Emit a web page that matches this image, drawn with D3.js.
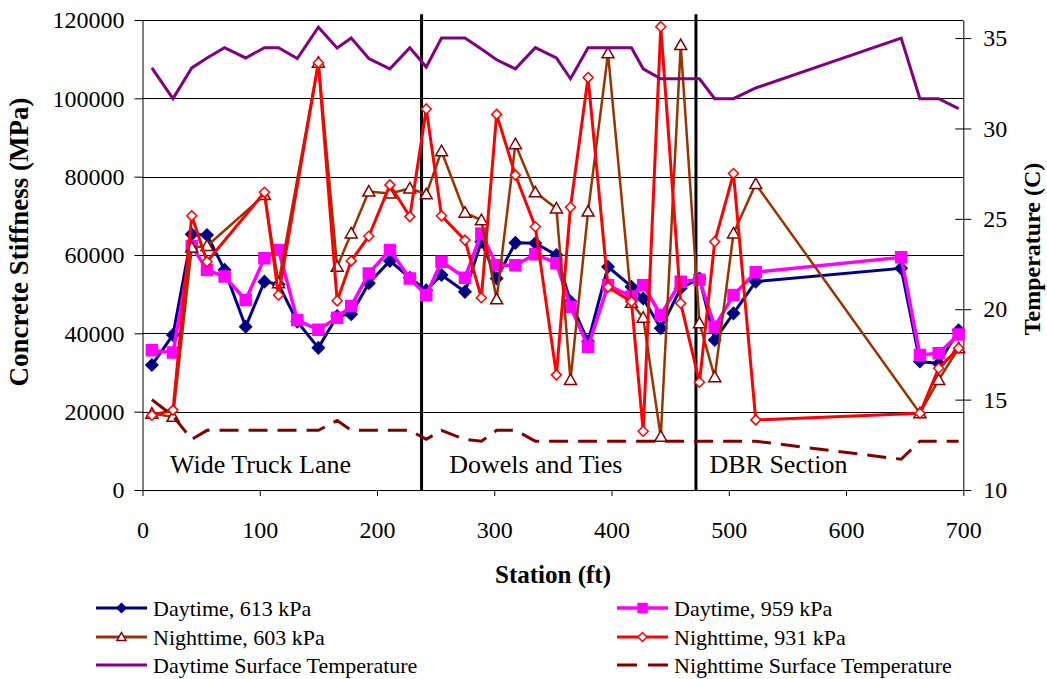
<!DOCTYPE html>
<html>
<head>
<meta charset="utf-8">
<script src="https://cdn.jsdelivr.net/npm/d3@7"></script>
<style>
    body { margin: 0; background: #ffffff; }
</style>
</head>
<body>
<div id="chart"></div>
<script>
// station (ft) of every test point
var stations = [8, 26, 42, 55, 70, 88, 104, 116, 132, 150, 166, 178, 193, 211, 228,
    242, 255, 275, 289, 302, 318, 335, 353, 365, 380, 397, 417, 427, 442, 459,
    475, 488, 504, 523, 647, 663, 679, 696];

// concrete stiffness (MPa), null where the series has no reading
var day613 = [31900, 39600, 65300, 65100, 56200, 41700, 53200, 52500, 43000, 36300,
    44400, 44900, 52800, 58500, 54200, 51000, 54900, 50600, 63400, 54000,
    63100, 63000, 60000, 48100, 37900, 57000, 51900, 48900, 41300, 51500,
    54000, 38300, 45100, 53200, 56600, 32800, 32300, 40800];
var day959 = [35700, 35100, 62300, 56200, 54500, 48500, 59200, 61300, 43400, 40900,
    44000, 47000, 55300, 61300, 54000, 49800, 58300, 54200, 65500, 57400,
    57400, 60200, 57900, 46800, 36600, 52300, 49400, 52300, 44700, 53200,
    53700, 41700, 49800, 55600, 59400, 34500, 34900, 39700];
var night603 = [19500, 18700, 61900, 62300, null, null, 75300, 52800, null, 109100,
    57000, 65500, 76200, 75700, 77000, 75500, 86500, 70800, 68900, 48700,
    88300, 76000, 71900, 28100, 71100, 111500, 47800, 44000, 13600, 113600,
    42600, 28800, 65500, 78100, null, 19600, 28100, 36200];
var night931 = [19100, 20400, 70000, 58300, null, null, 76000, 49800, null, 109100,
    48300, 58500, 64800, 77900, 69800, 97300, 70000, 63800, 49100, 95900,
    80400, 67200, 29400, 72200, 105300, 51800, 48100, 15000, 118300, 47700,
    27500, 63400, 80800, 17900, null, 19600, 31100, 36200];

// surface temperature (C), right axis
var dayTemp = [33.35, 31.65, 33.35, 33.9, 34.47, 33.9, 34.47, 34.47, 33.87, 35.6,
    34.45, 35.0, 33.87, 33.3, 34.47, 33.4, 35.0, 35.0, 34.4, 33.8,
    33.3, 34.47, 33.9, 32.75, 34.47, 34.47, 34.47, 33.3, 32.75, 32.75,
    32.75, 31.65, 31.65, 32.24, 35.0, 31.65, 31.65, 31.1];
var nightTemp = [15.0, 14.1, 12.8, 13.3, 13.3, 13.3, 13.3, 13.3, 13.3, 13.3,
    13.85, 13.3, 13.3, 13.3, 13.3, 12.8, 13.3, 12.8, 12.7, 13.3,
    13.3, 12.7, 12.7, 12.7, 12.7, 12.7, 12.7, 12.7, 12.7, 12.7,
    12.7, 12.7, 12.7, 12.7, 11.7, 12.7, 12.7, 12.7];

// section boundaries and labels
var sectionLines = [238, 472];
var sectionLineTop = 121500;
var sectionNames = ['Wide Truck Lane', 'Dowels and Ties', 'DBR Section'];
var sectionNameStations = [23.5, 261.5, 483.5];

// axis ticks
var stationTicks = [0, 100, 200, 300, 400, 500, 600, 700];
var stiffnessTicks = [0, 20000, 40000, 60000, 80000, 100000, 120000];
var tempTicks = [10, 15, 20, 25, 30, 35];

var graphicWidth = 1047;
var graphicHeight = 679;
var plotLeft = 142.5, plotRight = 963.3, plotTop = 20, plotBottom = 490;
var mainFont = "'Liberation Serif', 'Times New Roman', serif";

window.onload = function() {
    render();
};

function render() {
    var svg = d3.select('#chart').append('svg')
        .attr('width', graphicWidth)
        .attr('height', graphicHeight)
        .style('font-family', mainFont);

    var x = d3.scaleLinear().domain([0, 700]).range([plotLeft, plotRight]);
    var yL = d3.scaleLinear().domain([0, 120000]).range([plotBottom, plotTop]);
    var yR = d3.scaleLinear().domain([10, 36]).range([plotBottom, plotTop]);

    // horizontal gridlines
    svg.append('g').selectAll('line')
        .data(stiffnessTicks.slice(1))
        .enter().append('line')
        .attr('x1', plotLeft).attr('x2', plotRight)
        .attr('y1', function(d) { return Math.round(yL(d)) + 0.5; })
        .attr('y2', function(d) { return Math.round(yL(d)) + 0.5; })
        .attr('stroke', '#000')
        .attr('stroke-width', 1);

    // axes
    var left = svg.append('g')
        .attr('transform', 'translate(' + plotLeft + ',0)')
        .call(d3.axisLeft(yL).tickValues(stiffnessTicks).tickFormat(d3.format('d'))
            .tickSize(8).tickSizeOuter(0).tickPadding(10));
    var right = svg.append('g')
        .attr('transform', 'translate(' + plotRight + ',0)')
        .call(d3.axisRight(yR).tickValues(tempTicks)
            .tickSize(8).tickSizeOuter(0).tickPadding(12));
    right.selectAll('.tick line').attr('x1', -8);
    var bottom = svg.append('g')
        .attr('transform', 'translate(0,' + plotBottom + ')')
        .call(d3.axisBottom(x).tickValues(stationTicks)
            .tickSize(6).tickSizeOuter(0).tickPadding(25));

    [left, right, bottom].forEach(function(ax) {
        ax.selectAll('text')
            .style('font-family', mainFont)
            .style('font-size', '24px')
            .attr('fill', '#000');
        ax.selectAll('path, line').attr('stroke', '#000');
    });

    // section boundary lines
    svg.append('g').selectAll('line')
        .data(sectionLines)
        .enter().append('line')
        .attr('x1', function(d) { return x(d); })
        .attr('x2', function(d) { return x(d); })
        .attr('y1', yL(0))
        .attr('y2', yL(sectionLineTop))
        .attr('stroke', '#000')
        .attr('stroke-width', 3);

    // section names
    svg.append('g').selectAll('text')
        .data(sectionNames)
        .enter().append('text')
        .attr('x', function(d, i) { return x(sectionNameStations[i]); })
        .attr('y', 473)
        .style('font-size', '26px')
        .text(function(d) { return d; });

    // stiffness series
    drawSeries(svg, x, yL, day613, '#000080', 3, null, 'diamond', '#000080', '#000080', 6);
    drawSeries(svg, x, yL, day959, '#FF00FF', 3.5, null, 'square', '#FF00FF', '#FF00FF', 5.5);
    drawSeries(svg, x, yL, night603, '#993300', 2.5, null, 'triangle', '#800000', '#ffffff', 6);
    drawSeries(svg, x, yL, night931, '#FF0000', 3, null, 'diamond', '#FF0000', '#ffffff', 5);

    // temperature series
    drawSeries(svg, x, yR, dayTemp, '#800080', 3, null, null);
    drawSeries(svg, x, yR, nightTemp, '#800000', 3, '19,10', null);

    // axis titles
    svg.append('text')
        .attr('transform', 'translate(28,' + ((plotTop + plotBottom) / 2 - 13) + ') rotate(-90)')
        .style('text-anchor', 'middle')
        .style('font-size', '27px')
        .style('font-weight', 'bold')
        .text('Concrete Stiffness (MPa)');
    svg.append('text')
        .attr('transform', 'translate(1040,' + ((plotTop + plotBottom) / 2 - 6) + ') rotate(-90)')
        .style('text-anchor', 'middle')
        .style('font-size', '24px')
        .style('font-weight', 'bold')
        .text('Temperature (C)');
    svg.append('text')
        .attr('x', 553)
        .attr('y', 583)
        .style('text-anchor', 'middle')
        .style('font-size', '25px')
        .style('font-weight', 'bold')
        .text('Station (ft)');

    makeLegend(svg);
}

function markerPath(type, s) {
    if (type === 'diamond') {
        return 'M0,' + (-s) + 'L' + s + ',0L0,' + s + 'L' + (-s) + ',0Z';
    }
    if (type === 'square') {
        return 'M' + (-s) + ',' + (-s) + 'H' + s + 'V' + s + 'H' + (-s) + 'Z';
    }
    // triangle
    return 'M0,' + (-s) + 'L' + s + ',' + (s * 0.75) + 'L' + (-s) + ',' + (s * 0.75) + 'Z';
}

/*
 * draws one series as a polyline with optional markers
 * values line up with stations; null values are skipped and the line joins across them
 */
function drawSeries(svg, x, y, values, color, width, dash, marker, mStroke, mFill, mSize) {
    var pts = [];
    for (var i = 0; i < stations.length; i++) {
        if (values[i] != null) pts.push([stations[i], values[i]]);
    }

    var line = d3.line()
        .x(function(d) { return x(d[0]); })
        .y(function(d) { return y(d[1]); });

    var g = svg.append('g');
    g.append('path')
        .attr('d', line(pts))
        .attr('fill', 'none')
        .attr('stroke', color)
        .attr('stroke-width', width)
        .attr('stroke-linejoin', 'miter')
        .attr('stroke-dasharray', dash);

    if (marker) {
        g.selectAll('path.m')
            .data(pts)
            .enter().append('path')
            .attr('class', 'm')
            .attr('d', markerPath(marker, mSize))
            .attr('transform', function(d) { return 'translate(' + x(d[0]) + ',' + y(d[1]) + ')'; })
            .attr('fill', mFill)
            .attr('stroke', mStroke)
            .attr('stroke-width', 1.5);
    }
}

function makeLegend(svg) {
    var entries = [
        { name: 'Daytime, 613 kPa', color: '#000080', width: 3, marker: 'diamond', mStroke: '#000080', mFill: '#000080', col: 0, row: 0 },
        { name: 'Daytime, 959 kPa', color: '#FF00FF', width: 3.5, marker: 'square', mStroke: '#FF00FF', mFill: '#FF00FF', col: 1, row: 0 },
        { name: 'Nighttime, 603 kPa', color: '#993300', width: 3, marker: 'triangle', mStroke: '#800000', mFill: '#ffffff', col: 0, row: 1 },
        { name: 'Nighttime, 931 kPa', color: '#FF0000', width: 3, marker: 'diamond', mStroke: '#FF0000', mFill: '#ffffff', col: 1, row: 1 },
        { name: 'Daytime Surface Temperature', color: '#800080', width: 3, marker: null, col: 0, row: 2 },
        { name: 'Nighttime Surface Temperature', color: '#800000', width: 3, marker: null, dash: '20,11', col: 1, row: 2 }
    ];
    var colX = [96, 617];
    var rowY = [608, 637, 665];
    var symbolLength = 51;

    entries.forEach(function(e) {
        var x0 = colX[e.col];
        var y0 = rowY[e.row];
        svg.append('line')
            .attr('x1', x0).attr('x2', x0 + symbolLength)
            .attr('y1', y0).attr('y2', y0)
            .attr('stroke', e.color)
            .attr('stroke-width', e.width)
            .attr('stroke-dasharray', e.dash || null);
        if (e.marker) {
            svg.append('path')
                .attr('d', markerPath(e.marker, 4.5))
                .attr('transform', 'translate(' + (x0 + symbolLength / 2) + ',' + y0 + ')')
                .attr('fill', e.mFill)
                .attr('stroke', e.mStroke)
                .attr('stroke-width', 1.5);
        }
        svg.append('text')
            .attr('x', x0 + symbolLength + 6)
            .attr('y', y0)
            .attr('dy', '0.35em')
            .style('font-size', '22px')
            .text(e.name);
    });
}
</script>
</body>
</html>
